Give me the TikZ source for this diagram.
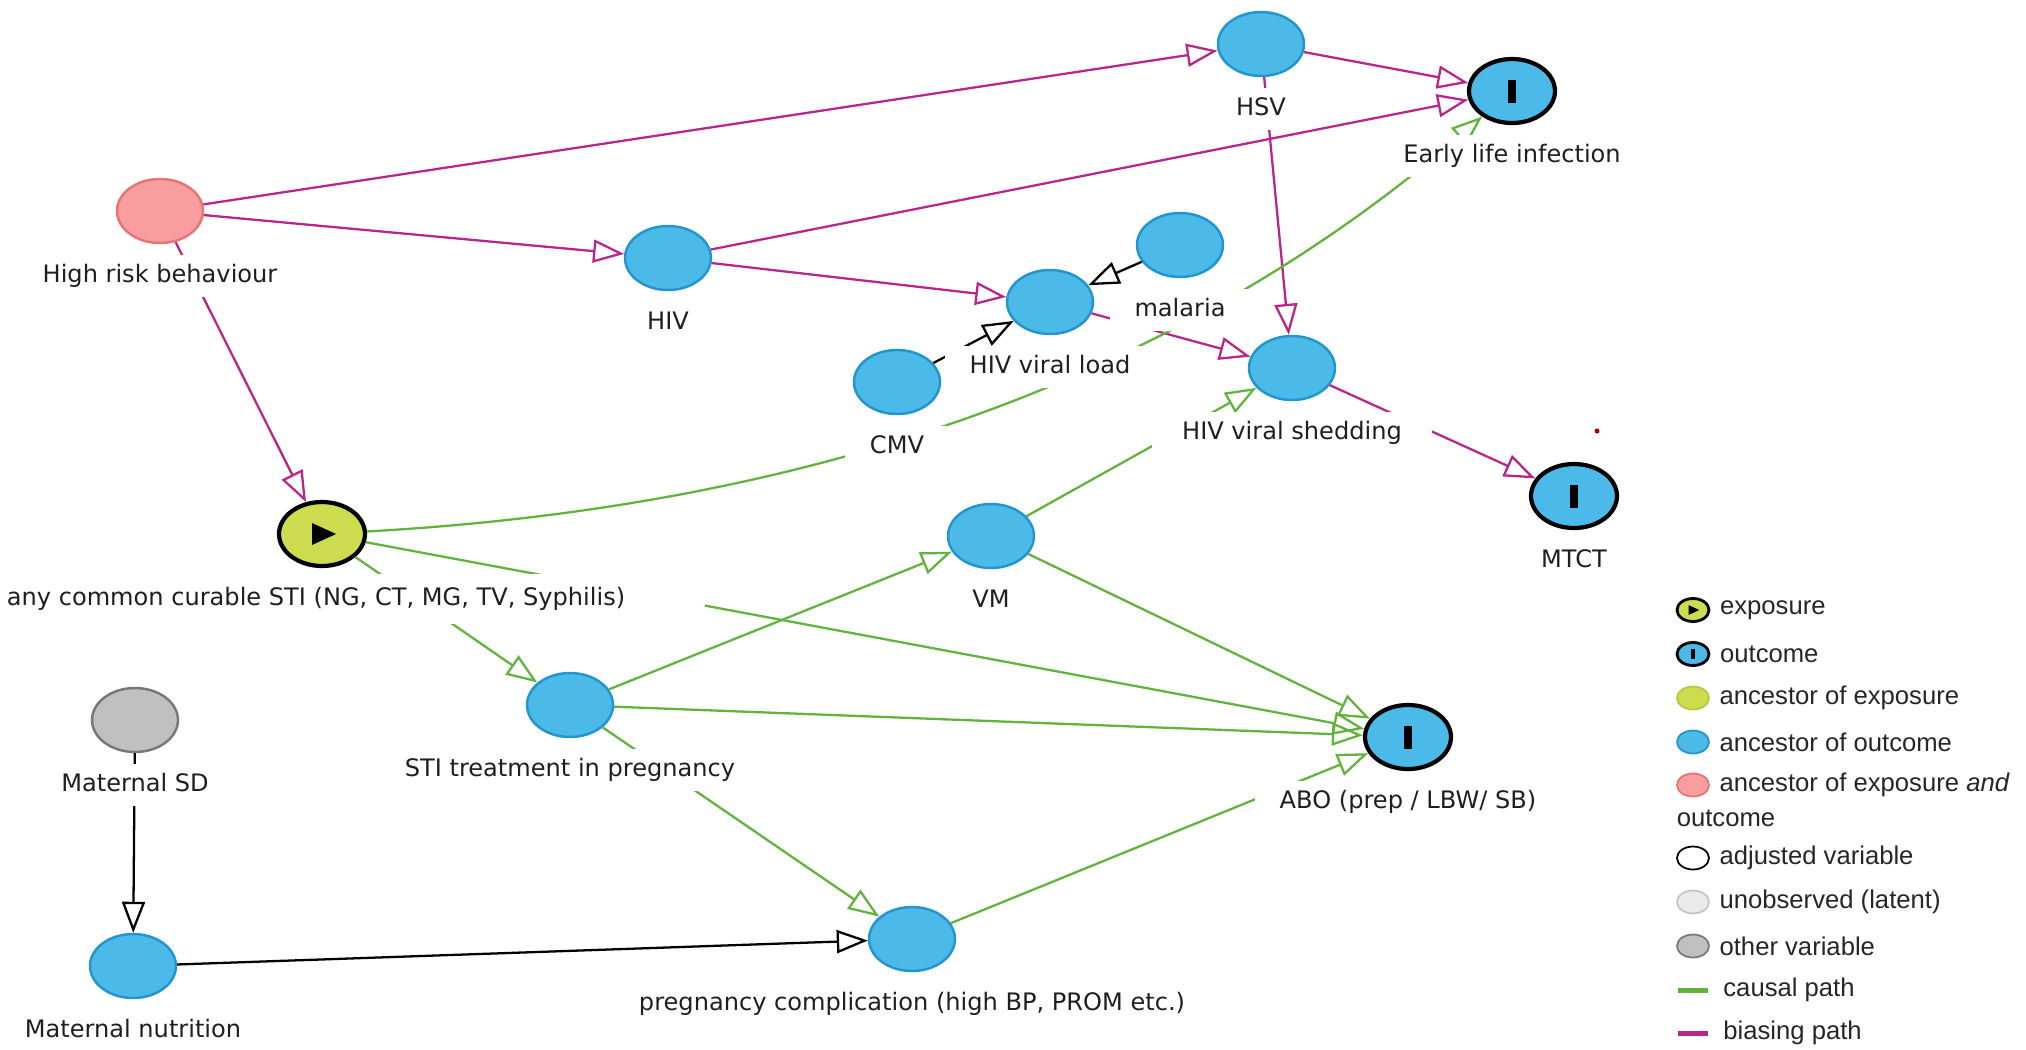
\documentclass[tikz,border=0pt]{standalone}
\usepackage{fontspec}
\setmainfont{DejaVu Sans}
\newfontfamily\legfont{Liberation Sans}
\usetikzlibrary{arrows.meta,shapes.geometric,positioning}
\definecolor{outblue}{RGB}{76,186,232}
\definecolor{outbluedk}{RGB}{34,148,206}
\definecolor{expgreen}{RGB}{204,220,78}
\definecolor{bothpink}{RGB}{248,158,158}
\definecolor{bothpinkdk}{RGB}{230,116,116}
\definecolor{othergray}{RGB}{192,192,192}
\definecolor{othergraydk}{RGB}{120,120,120}
\definecolor{latentgray}{RGB}{234,234,234}
\definecolor{latentgraydk}{RGB}{196,196,196}
\definecolor{causalgreen}{RGB}{98,178,62}
\definecolor{biasmagenta}{RGB}{184,38,140}
\newcommand{\varwd}{8.6mm}
\newcommand{\varht}{6.4mm}
\newcommand{\labdrop}{6.5mm}
\tikzset{
    varsty/.style={ellipse,minimum width=\varwd,minimum height=\varht,inner sep=0pt,line width=0.7pt},
    ancoutsty/.style={varsty,fill=outblue,draw=outbluedk},
    bothsty/.style={varsty,fill=bothpink,draw=bothpinkdk},
    othersty/.style={varsty,fill=othergray,draw=othergraydk},
    exposty/.style={varsty,fill=expgreen,draw=black,line width=1.2pt,
        path picture={\fill[black] ([xshift=-#1*1.0mm,yshift=-#1*1.1mm]path picture bounding box.center) -- ++(0,#1*2.2mm) -- ++(#1*2.4mm,-#1*1.1mm) -- cycle;}},
    exposty/.default=1,
    outcsty/.style={varsty,fill=outblue,draw=black,line width=1.2pt,
        path picture={\fill[black] ([xshift=-#1*0.4mm,yshift=-#1*1.15mm]path picture bounding box.center) rectangle ++(#1*0.8mm,#1*2.3mm);}},
    outcsty/.default=1,
    labsty/.style={fill=white,text=black!88,font=\fontsize{6.85}{8}\selectfont,inner xsep=2.5mm,inner ysep=1mm,text height=1.75mm,text depth=0.45mm},
    edgesty/.style={line width=0.65pt,-{Triangle[open,length=3.1mm,width=2.3mm]}},
    causty/.style={edgesty,draw=causalgreen},
    biassty/.style={edgesty,draw=biasmagenta},
    plainsty/.style={edgesty,draw=black},
    legsty/.style={minimum width=3.2mm,minimum height=2.3mm,line width=0.5pt},
    legtxtsty/.style={font=\legfont\fontsize{7.3}{9}\selectfont,inner sep=0pt,text=black!85},
    swatchsty/.style={minimum width=3mm,minimum height=0.5mm,inner sep=0pt},
}

\begin{document}
\begin{tikzpicture}[x=0.1mm,y=-0.1mm]
  \useasboundingbox (0,0) rectangle (2026,1049);

  \node[ancoutsty] (hsv) at (1261,44) {};
  \node[outcsty] (eli) at (1512,91) {};
  \node[bothsty] (hrb) at (160,211) {};
  \node[ancoutsty] (hiv) at (668,258) {};
  \node[ancoutsty] (malaria) at (1180,245) {};
  \node[ancoutsty] (vload) at (1050,302) {};
  \node[ancoutsty] (cmv) at (897,382) {};
  \node[ancoutsty] (shed) at (1292,368) {};
  \node[outcsty] (mtct) at (1574,496) {};
  \node[exposty] (sti) at (322,534) {};
  \node[ancoutsty] (vm) at (991,536) {};
  \node[ancoutsty] (trt) at (570,705) {};
  \node[outcsty] (abo) at (1408,737) {};
  \node[othersty] (msd) at (135,720) {};
  \node[ancoutsty] (mnut) at (133,966) {};
  \node[ancoutsty] (pcomp) at (912,939) {};
  \node[circle,fill=red!65!black,inner sep=0pt,minimum size=0.5mm] (dot) at (1597,431) {};

  \draw[biassty] (hrb) -- (hsv);
  \draw[biassty] (hrb) -- (hiv);
  \draw[biassty] (hrb) -- (sti);
  \draw[biassty] (hsv) -- (eli);
  \draw[biassty] (hiv) -- (eli);
  \draw[biassty] (hsv) -- (shed);
  \draw[biassty] (hiv) -- (vload);
  \draw[biassty] (vload) -- (shed);
  \draw[biassty] (shed) -- (mtct);
  \draw[plainsty] (malaria) -- (vload);
  \draw[plainsty] (cmv) -- (vload);
  \draw[causty] (sti) .. controls (750,510) and (1140,410) .. (eli);
  \draw[causty] (sti) -- (trt);
  \draw[causty] (sti) -- (abo);
  \draw[causty] (trt) -- (vm);
  \draw[causty] (trt) -- (abo);
  \draw[causty] (trt) -- (pcomp);
  \draw[causty] (vm) -- (shed);
  \draw[causty] (vm) -- (abo);
  \draw[causty] (pcomp) -- (abo);
  \draw[plainsty] (msd) -- (mnut);
  \draw[plainsty] (mnut) -- (pcomp);

  \node[labsty] (hsvl) at ([yshift=-\labdrop]hsv.center) {HSV};
  \node[labsty] (elil) at ([yshift=-\labdrop]eli.center) {Early life infection};
  \node[labsty] (hrbl) at ([yshift=-\labdrop]hrb.center) {High risk behaviour};
  \node[labsty] (hivl) at ([yshift=-\labdrop]hiv.center) {HIV};
  \node[labsty] (malarial) at ([yshift=-\labdrop]malaria.center) {malaria};
  \node[labsty] (vloadl) at ([yshift=-\labdrop]vload.center) {HIV viral load};
  \node[labsty] (cmvl) at ([yshift=-\labdrop]cmv.center) {CMV};
  \node[labsty,inner xsep=3mm] (shedl) at ([yshift=-\labdrop]shed.center) {HIV viral shedding};
  \node[labsty] (mtctl) at ([yshift=-\labdrop]mtct.center) {MTCT};
  \node[labsty,inner xsep=8mm,inner ysep=1.4mm] (stil) at ([xshift=-0.6mm,yshift=-\labdrop]sti.center) {any common curable STI (NG, CT, MG, TV, Syphilis)};
  \node[labsty] (vml) at ([yshift=-\labdrop]vm.center) {VM};
  \node[labsty] (trtl) at ([yshift=-\labdrop]trt.center) {STI treatment in pregnancy};
  \node[labsty] (abol) at ([yshift=-\labdrop]abo.center) {ABO (prep / LBW/ SB)};
  \node[labsty] (msdl) at ([yshift=-\labdrop]msd.center) {Maternal SD};
  \node[labsty] (mnutl) at ([yshift=-\labdrop]mnut.center) {Maternal nutrition};
  \node[labsty] (pcompl) at ([yshift=-\labdrop]pcomp.center) {pregnancy complication (high BP, PROM etc.)};

  \node[exposty=0.45,legsty,line width=0.8pt] (lexpo) at (1693,610) {};
  \node[legtxtsty,right=0.9mm of lexpo] (lexpot) {exposure};
  \node[outcsty=0.45,legsty,line width=0.8pt] (loutc) at (1693,654) {};
  \node[legtxtsty,right=0.9mm of loutc] (loutct) {outcome};
  \node[varsty,fill=expgreen,draw=expgreen!90!black,legsty] (lancexp) at (1693,698) {};
  \node[legtxtsty,right=0.9mm of lancexp] (lancexpt) {ancestor of exposure};
  \node[ancoutsty,legsty] (lancout) at (1693,742) {};
  \node[legtxtsty,right=0.9mm of lancout] (lancoutt) {ancestor of outcome};
  \node[bothsty,legsty] (lboth) at (1693,785) {};
  \node[legtxtsty,right=0.9mm of lboth] (lbotht) {ancestor of exposure \textit{and}};
  \node[legtxtsty,anchor=west] (lbotht2) at ([yshift=-3.3mm]lboth.west) {outcome};
  \node[varsty,fill=white,draw=black,legsty] (ladj) at (1693,858) {};
  \node[legtxtsty,right=0.9mm of ladj] (ladjt) {adjusted variable};
  \node[varsty,fill=latentgray,draw=latentgraydk,legsty] (llat) at (1693,902) {};
  \node[legtxtsty,right=0.9mm of llat] (llatt) {unobserved (latent)};
  \node[othersty,legsty] (loth) at (1693,946) {};
  \node[legtxtsty,right=0.9mm of loth] (lotht) {other variable};
  \node[swatchsty,fill=causalgreen] (lcaus) at (1693,990) {};
  \node[legtxtsty,right=1.4mm of lcaus] (lcaust) {causal path};
  \node[swatchsty,fill=biasmagenta] (lbias) at (1693,1033) {};
  \node[legtxtsty,right=1.4mm of lbias] (lbiast) {biasing path};
\end{tikzpicture}
\end{document}
